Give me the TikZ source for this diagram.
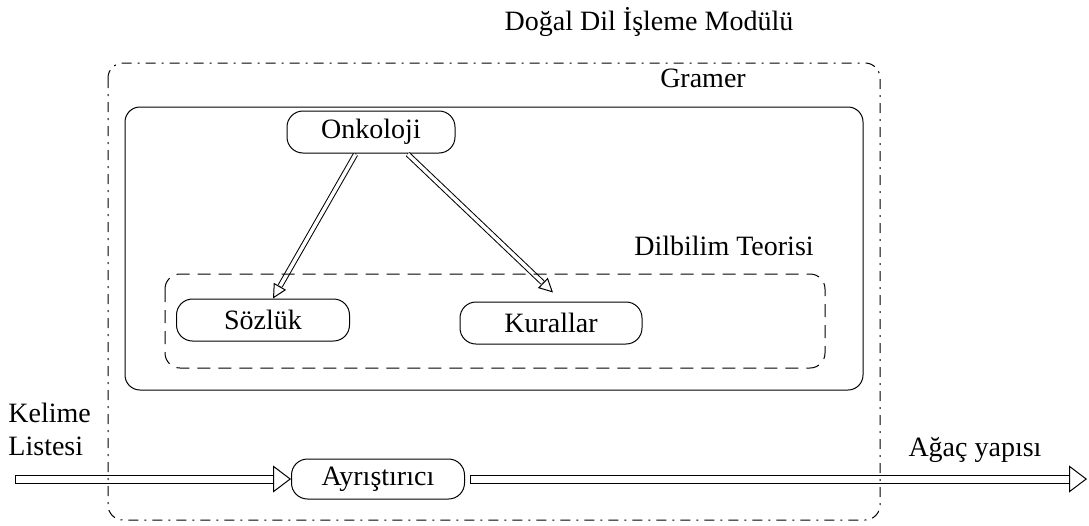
\documentclass[tikz,border=0pt]{standalone}
\usepackage{fontspec}
\setmainfont{Liberation Serif}
\usetikzlibrary{arrows.meta}
\tikzset{module/.style={draw, rounded corners=16pt, minimum height=42pt, inner sep=0pt}}
\tikzset{outer box/.style={draw, rounded corners=15pt, dash pattern=on 10pt off 6pt on 2pt off 6pt}}
\tikzset{group box/.style={draw, rounded corners=15pt}}
\tikzset{inner box/.style={draw, rounded corners=15pt, dash pattern=on 13pt off 8pt}}
\tikzset{thin tip/.style={-{Triangle[open,length=14pt,width=14pt]}}}
\tikzset{thin pipe/.style={double, double distance=3.5pt, shorten <=1pt, shorten >=14.5pt}}
\tikzset{wide tip/.style={{Bar[width=9pt]}-{Triangle[open,length=18pt,width=27pt]}}}
\tikzset{wide pipe/.style={double, double distance=7pt, shorten <=0.5pt, shorten >=18.5pt}}

\begin{document}
\begin{tikzpicture}[x=1pt, y=-1pt, line width=1pt, font=\fontsize{28}{33}\selectfont]
    \useasboundingbox (0,0) rectangle (1089,525);
    % labels
    \node (title)  at (649,22)  {Doğal Dil İşleme Modülü};
    \node (gramer) at (703,78)  {Gramer};
    \node (teori)  at (724,246) {Dilbilim Teorisi};
    \node[align=left, anchor=west, inner sep=0pt] (giris) at (8,429) {Kelime\\Listesi};
    \node (cikis)  at (975,450) {Ağaç yapısı};
    % modules
    \node[module, minimum width=168pt] (onk) at (371,132) {Onkoloji};
    \node[module, minimum width=173pt] (soz) at (263,320) {Sözlük};
    \node[module, minimum width=182pt] (kur) at (551,323) {Kurallar};
    \node[module, minimum width=173pt, minimum height=40pt] (ays) at (378,479) {Ayrıştırıcı};
    \coordinate (src) at (15,479);
    \coordinate (dst) at (1087,479);
    % flows
    \draw[thin tip]  ([xshift=-15pt]onk.south) -- ([xshift=10pt]soz.north);
    \draw[thin pipe] ([xshift=-15pt]onk.south) -- ([xshift=10pt]soz.north);
    \draw[thin tip]  ([xshift=36pt]onk.south) -- ([xshift=2pt, yshift=9pt]kur.north);
    \draw[thin pipe] ([xshift=36pt]onk.south) -- ([xshift=2pt, yshift=9pt]kur.north);
    \draw[wide tip]  (src) -- (ays.west);
    \draw[wide pipe] (src) -- (ays.west);
    \draw[wide tip]  ([xshift=5pt]ays.east) -- (dst);
    \draw[wide pipe] ([xshift=5pt]ays.east) -- (dst);
    % boxes
    \draw[outer box] (108,63) rectangle (880,520);
    \draw[group box] (125,107) rectangle (863,390);
    \draw[inner box] (165,274) rectangle (825,368);
\end{tikzpicture}
\end{document}
